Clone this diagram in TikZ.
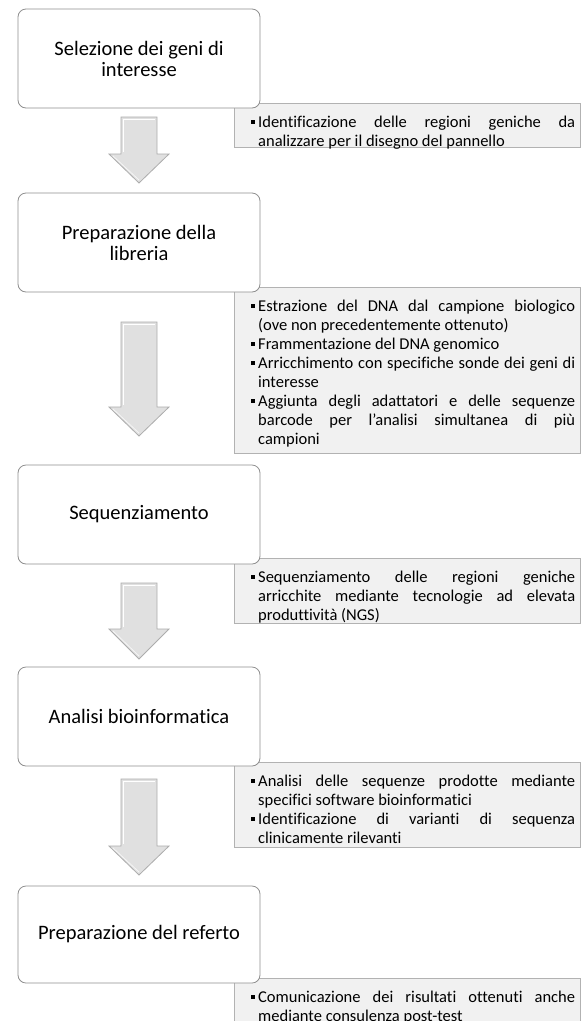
\documentclass[tikz,border=0pt]{standalone}
\usepackage{fontspec}
\setmainfont{Carlito}[Ligatures={NoCommon}]
\usetikzlibrary{calc}
\newcommand{\itm}[1]{\par\parskip=0pt\hangindent=7pt\hangafter=1\noindent\makebox[7pt][l]{\rule[3.4pt]{3.8pt}{3.8pt}}\strut#1\strut\par}
\newcommand{\bigarr}[3]{%
  \draw[arrshape] (121,#1) -- (157,#1) -- (157,#2) -- (169,#2) -- (139,#3) -- (109,#2) -- (121,#2) -- cycle;
  \draw[white, line width=1pt] (123,#1+2) -- (155,#1+2);
  \draw[white, line width=0.8pt] (123.5,#1+3) -- (123.5,#2-2);
  \draw[gray!8, line width=0.8pt] (113,#2+2) -- (139,#3-3);
}
\begin{document}
\begin{tikzpicture}[x=1pt,y=-1pt,
  stepbox/.style={draw=gray!75!black!70, line width=0.8pt, rounded corners=8pt, fill=white,
    minimum width=242pt, align=center, font=\fontsize{20.5}{21}\selectfont, inner sep=0pt},
  greybox/.style={draw=gray!60, line width=1pt, fill=gray!11, inner sep=0pt, anchor=north west},
  notes/.style={anchor=north west, text width=324pt, align=justify, inner sep=0pt,
    font=\fontsize{16.5}{19}\selectfont},
  arrshape/.style={draw=gray!65, line width=0.8pt, fill=gray!24, line join=miter}]
\useasboundingbox (0,0) rectangle (584,1021);
\fill[white] (0,0) rectangle (584,1021);

% grey note boxes
\node[greybox, minimum width=346pt, minimum height=44pt] (g1) at (234,103) {};
\node[greybox, minimum width=346pt, minimum height=166pt] (g2) at (234,287) {};
\node[greybox, minimum width=346pt, minimum height=65pt] (g3) at (234,558) {};
\node[greybox, minimum width=346pt, minimum height=85pt] (g4) at (234,762) {};
\node[greybox, minimum width=346pt, minimum height=50pt] (g5) at (234,978) {};

\node[notes] (t1) at ($(g1.north west)+(17,5)$) {\itm{Identificazione delle regioni geniche da\linebreak analizzare per il disegno del pannello}};
\node[notes] (t2) at ($(g2.north west)+(17,5)$) {\itm{Estrazione del DNA dal campione biologico\linebreak (ove non precedentemente ottenuto)}%
\itm{Frammentazione del DNA genomico}%
\itm{Arricchimento con specifiche sonde dei geni di\linebreak interesse}%
\itm{Aggiunta degli adattatori e delle sequenze\linebreak barcode per l’analisi simultanea di più\linebreak campioni}};
\node[notes] (t3) at ($(g3.north west)+(17,5)$) {\itm{Sequenziamento delle regioni geniche\linebreak arricchite mediante tecnologie ad elevata\linebreak produttività (NGS)}};
\node[notes] (t4) at ($(g4.north west)+(17,5)$) {\itm{Analisi delle sequenze prodotte mediante\linebreak specifici software bioinformatici}%
\itm{Identificazione di varianti di sequenza\linebreak clinicamente rilevanti}};
\node[notes] (t5) at ($(g5.north west)+(17,5)$) {\itm{Comunicazione dei risultati ottenuti anche\linebreak mediante consulenza post-test}};

% step boxes
\node[stepbox, minimum height=99pt] (b1) at (139,58.5) {Selezione dei geni di\\interesse};
\node[stepbox, minimum height=99pt] (b2) at (139,242.5) {Preparazione della\\libreria};
\node[stepbox, minimum height=99pt] (b3) at (139,514.5) {Sequenziamento};
\node[stepbox, minimum height=99pt] (b4) at (139,716.5) {Analisi bioinformatica};
\node[stepbox, minimum height=97pt] (b5) at (139,934.5) {Preparazione del referto};

% block arrows
\bigarr{117}{154}{183}
\bigarr{322}{407}{436}
\bigarr{583}{629}{659}
\bigarr{779}{846}{875}
\end{tikzpicture}
\end{document}
